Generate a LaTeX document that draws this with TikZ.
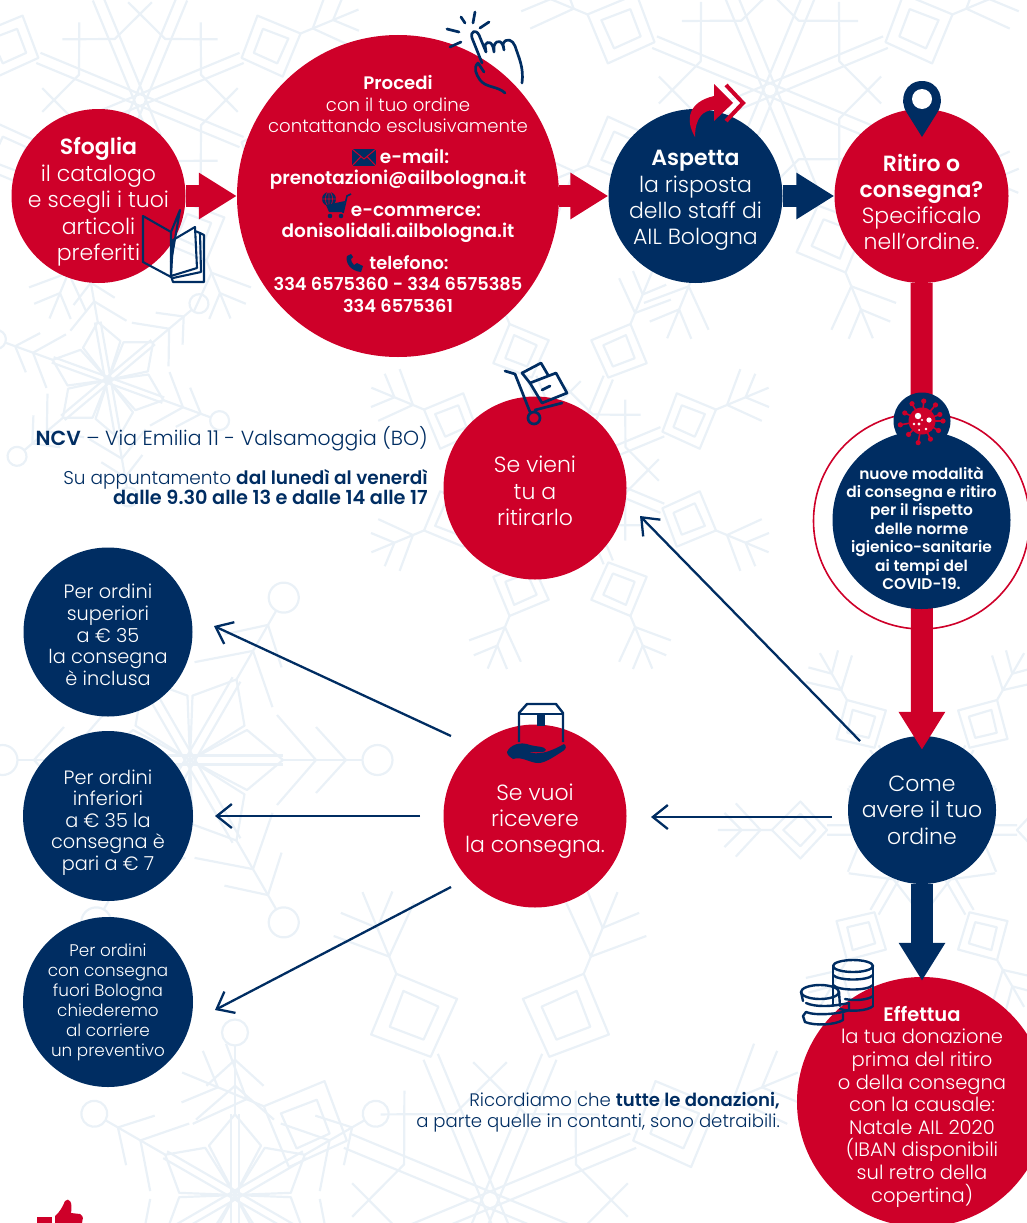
\documentclass[tikz,border=0pt]{standalone}
\usepackage{fontspec}
\setmainfont{Poppins Light}[BoldFont={Poppins SemiBold}]
\usetikzlibrary{arrows.meta}
\definecolor{navy}{HTML}{002D62}
\definecolor{ailred}{HTML}{CE0029}
\definecolor{flake}{HTML}{EAF1F7}
\newcommand{\fs}[2]{\fontsize{#1}{#2}\selectfont}
% petal flake with round tips
\newcommand{\flakeA}[4]{%
 \begin{scope}[shift={(#1,#2)},rotate=#4,scale=#3,line width=2.2pt,flake,line join=round]
 \foreach \a in {0,60,...,300}{
  \begin{scope}[rotate=\a]
   \draw (0,0) -- (-20,-38) -- (0,-62) -- (20,-38) -- cycle;
   \draw (-3,0) -- (-3,-62) (3,0) -- (3,-62);
   \draw (0,-62) -- (0,-115);
   \draw (-30,-58) -- (0,-84) -- (30,-58);
   \draw (-22,-84) -- (0,-104) -- (22,-84);
   \draw (0,-125) circle (10);
  \end{scope}}
 \end{scope}}
% diamond flake, #5 arms
\newcommand{\flakeB}[5]{%
 \pgfmathsetmacro{\stp}{360/#5}
 \begin{scope}[shift={(#1,#2)},rotate=#4,scale=#3,line width=2.2pt,flake,line join=round]
 \foreach \i in {1,...,#5}{
  \begin{scope}[rotate=\i*\stp]
   \draw (-5,0) -- (-5,-100) (5,0) -- (5,-100);
   \draw (0,-100) -- (-30,-128) -- (0,-158) -- (30,-128) -- cycle;
   \draw (0,-112) -- (-17,-128) -- (0,-146) -- (17,-128) -- cycle;
   \draw (-44,-78) -- (0,-60) -- (44,-78);
   \draw (0,-158) -- (0,-215);
   \draw (-28,-196) -- (0,-170) -- (28,-196);
   \draw (-18,-208) -- (0,-190) -- (18,-208);
  \end{scope}}
 \end{scope}}
\tikzset{
 disc/.style={circle,inner sep=0pt,minimum size=#1,text=white,align=center},
 redd/.style={disc=#1,fill=ailred},
 navd/.style={disc=#1,fill=navy},
 blockred/.style={draw=ailred,line width=22pt,-{Triangle[length=38pt,width=44pt,fill=ailred]}},
 blocknav/.style={draw=navy,line width=22pt,-{Triangle[length=38pt,width=44pt,fill=navy]}},
 thin/.style={draw=navy,line width=2.3pt,-{Straight Barb[length=15pt,width=24pt,line width=2.3pt]}},
 lab/.style={text=white,align=center,inner sep=0pt},
 outs/.style={text=navy,align=right,inner sep=0pt,anchor=east},
 ico/.style={draw=navy,line width=2.4pt,line cap=round,line join=round},
}
\begin{document}
\begin{tikzpicture}[x=1pt,y=-1pt]
\useasboundingbox (0,0) rectangle (1027,1223);
\begin{scope}
\clip (0,0) rectangle (1027,1223);
\flakeB{140}{100}{1.1}{22.5}{8}
\flakeB{770}{90}{1.25}{22.5}{8}
\flakeB{570}{470}{1.0}{22.5}{8}
\flakeB{922}{830}{0.95}{30}{6}
\flakeB{490}{1200}{1.55}{22.5}{8}
\flakeA{108}{380}{0.95}{10}
\flakeA{190}{760}{1.5}{30}
\flakeA{235}{1195}{1.3}{0}
\end{scope}

% discs
\node[redd=174pt] (sfoglia) at (98.5,196) {};
\node[redd=322pt] (procedi) at (398,196) {};
\node[navd=174pt] (aspetta) at (695.5,196) {};
\node[redd=174pt] (ritiro) at (921.5,196) {};
\node[navd=148pt] (come) at (922,810) {};
\node[redd=250pt] (effettua) at (922,1102) {};
\node[redd=183pt] (vieni) at (535,488) {};
\node[redd=183pt] (vuoi) at (535,816) {};
\node[navd=169pt] (sup) at (108,632) {};
\node[navd=170pt] (inf) at (108,816) {};
\node[navd=170pt] (fuori) at (108,1002) {};

% block arrows
\draw[blockred] (sfoglia) -- (procedi);
\draw[blockred] (procedi) -- (aspetta);
\draw[blocknav] (aspetta) -- (ritiro);
\draw[blockred,shorten >=-14pt] (ritiro) -- (come);
\draw[blocknav,shorten >=-4pt] (come) -- (effettua);

% covid group
\node[circle,draw=ailred,line width=1.6pt,minimum size=216pt,inner sep=0pt] (ring) at (921.5,521) {};
\node[navd=178pt] (covid) at (921.5,520) {};
\node[navd=57pt] (virus) at (922,421) {};
\begin{scope}[shift={(virus.center)}]
 \foreach \a/\r in {0/21,30/19,65/20,100/22,135/19,170/22,205/19,240/20,275/20,310/21,340/19}{
  \draw[ailred,line width=1.6pt] (0,0) -- (\a:\r);
  \fill[ailred] (\a:\r) circle (2.6);}
 \fill[ailred] (0,0) circle (13.5);
 \fill[white] (-4,-5) circle (3.2) (7,-1) circle (2.6) (-8,3) circle (1.3) (0,-1) circle (1.2) (-3,3) circle (1.6) (4,8) circle (1.3) (-3,9) circle (1);
\end{scope}

% thin arrows
\coordinate (a1s) at (860,741); \coordinate (a1e) at (640,516);
\coordinate (a2s) at (832,817); \coordinate (a2e) at (651,817);
\coordinate (a3s) at (451,736); \coordinate (a3e) at (214,626);
\coordinate (a4s) at (420,816); \coordinate (a4e) at (215,816);
\coordinate (a5s) at (451,887); \coordinate (a5e) at (215,1010);
\draw[thin] (a1s) -- (a1e);
\draw[thin] (a2s) -- (a2e);
\draw[thin] (a3s) -- (a3e);
\draw[thin] (a4s) -- (a4e);
\draw[thin] (a5s) -- (a5e);

% texts
\node[lab,font=\fs{22}{26.6}] (tsf) at (98.5,202) {\textbf{Sfoglia}\\il catalogo\\e scegli i tuoi\\articoli\\preferiti};
\node[lab,font=\fs{18.1}{21.5}] (tp1) at (398,104) {\textbf{Procedi}\\con il tuo ordine\\contattando esclusivamente};
\node[lab,font=\fs{18.5}{21.5}] (tp2) at (398,169.5) {\textbf{\hspace*{33pt}e-mail:}\\\textbf{prenotazioni@ailbologna.it}};
\node[lab,font=\fs{18.5}{21.5}] (tp3) at (398,224) {\textbf{\hspace*{36pt}e-commerce:}\\\textbf{donisolidali.ailbologna.it}};
\node[lab,font=\fs{17.8}{21.5}] (tp4) at (398,284) {\textbf{\hspace*{22pt}telefono:}\\\textbf{334 6575360 - 334 6575385}\\\textbf{334 6575361}};
\node[lab,font=\fs{22}{26.4}] (tas) at (695.5,200.5) {\textbf{Aspetta}\\la risposta\\dello staff di\\AIL Bologna};
\node[lab,font=\fs{22}{26.2}] (tri) at (921.5,202) {\textbf{Ritiro o}\\\textbf{consegna?}\\Specificalo\\nell’ordine.};
\node[lab,font=\fs{15.4}{18.4}] (tco) at (921.5,528) {\textbf{nuove modalità}\\\textbf{di consegna e ritiro}\\\textbf{per il rispetto}\\\textbf{delle norme}\\\textbf{igienico-sanitarie}\\\textbf{ai tempi del}\\\textbf{COVID-19.}};
\node[lab,font=\fs{22}{26.4}] (tcm) at (922,810) {Come\\avere il tuo\\ordine};
\node[lab,font=\fs{19.5}{22.6}] (tef) at (922,1106.5) {\textbf{Effettua}\\la tua donazione\\prima del ritiro\\o della consegna\\con la causale:\\Natale AIL 2020\\(IBAN disponibili\\sul retro della\\copertina)};
\node[lab,font=\fs{22}{26.2}] (tvi) at (535,491) {Se vieni\\tu a\\ritirarlo};
\node[lab,font=\fs{22}{26.2}] (tvu) at (535,821) {Se vuoi\\ricevere\\la consegna.};
\node[lab,font=\fs{19.3}{21.6}] (tsu) at (108,635) {Per ordini\\superiori\\a € 35\\la consegna\\è inclusa};
\node[lab,font=\fs{19.3}{21.6}] (tin) at (108,822.5) {Per ordini\\inferiori\\a € 35 la\\consegna è\\pari a € 7};
\node[lab,font=\fs{16.8}{20}] (tfu) at (108,1002) {Per ordini\\con consegna\\fuori Bologna\\chiederemo\\al corriere\\un preventivo};
\node[outs,font=\fs{20.4}{23}] (ncv) at (428,439) {\textbf{NCV} – Via Emilia 11 - Valsamoggia (BO)};
\node[outs,font=\fs{18.5}{19.5}] (app) at (428,487) {Su appuntamento \textbf{dal lunedì al venerdì}\\{\fs{19.3}{19.5}\textbf{dalle 9.30 alle 13 e dalle 14 alle 17}}};
\node[outs,font=\fs{18.1}{21}] (ric) at (780,1112) {Ricordiamo che \textbf{tutte le donazioni,}\\a parte quelle in contanti, sono detraibili.};

% envelope
\fill[navy] (352,149) rectangle (376,166);
\draw[ailred,line width=1pt] (352,149) -- (364,159) -- (376,149) (352,166) -- (361,156.5) (376,166) -- (367,156.5);
% cart
\begin{scope}[navy]
 \fill (329,199) circle (7);
 \draw[ailred,line width=.7pt] (322,199) -- (336,199) (329,192) -- (329,206) (329,199) ellipse (3.5 and 7);
 \fill (326,205) -- (345,201) -- (343,212) -- (329,212) -- cycle;
 \draw[line width=1.6pt] (351,194) -- (347,196) -- (343,213);
 \fill (330,216) circle (2.3) (341,216) circle (2.3);
\end{scope}
% phone
\fill[navy] (347,256) .. controls (345,262) and (350,271) .. (361,272) -- (363,266) -- (357,263) -- (354,265) .. controls (352,263) and (351,261) .. (351,259) -- (353,257) -- (351,254) -- cycle;
% hand
\draw[ico,line width=2.7pt] (482,63) -- (472,38) .. controls (470,31) and (476,29) .. (479,35) -- (486,52) -- (485,45) .. controls (488,40) and (493,42) .. (494,52) -- (494,46) .. controls (497,38) and (503,41) .. (504,50) -- (503,44) .. controls (506,37) and (513,40) .. (515,46) .. controls (519,58) and (524,68) .. (522,83);
\draw[ico,line width=2.7pt] (484,72) -- (478,63) .. controls (473,68) and (476,74) .. (480,80) .. controls (486,88) and (498,86) .. (505,93);
\draw[ico,line width=2.7pt] (461,17) -- (465,23) (475,12) -- (473,23) (489,22) -- (480,28) (447,29) -- (459,32) (450,47) -- (461,42);
% book
\draw[ico,line width=2.1pt] (143,216) -- (171,232) -- (171,277) -- (143,262) -- cycle;
\draw[ico,line width=2.1pt] (171,232) -- (180,210) -- (171,262);
\draw[ico,line width=2.1pt] (171,276) -- (173,240) -- (195,227) -- (197,268) -- (171,276);
\draw[ico,line width=2.1pt] (195,231) -- (200,233) -- (201,272) -- (173,278);
\draw[ico,line width=2.1pt] (200,233) -- (204,235) -- (204,282) -- (173,282) -- (171,276);
% curved arrow + chevron
\fill[ailred] (695,137) .. controls (685,120) and (688,102) .. (714,96) -- (714,84) -- (733,103) -- (714,121) -- (714,110) .. controls (703,110) and (695,118) .. (695,137) -- cycle;
\draw[ailred,line width=4pt,miter limit=10] (726,85) -- (743,103) -- (726,121);
% pin
\fill[navy] (922,137) -- (907,113) .. controls (898,100) and (905,81) .. (922,81) .. controls (939,81) and (946,100) .. (937,113) -- cycle;
\fill[white] (922,99) circle (10);
% trolley
\draw[ico,line width=2.7pt] (505,371) -- (515,374) -- (530,412);
\draw[ico,line width=2.7pt] (535,410) -- (562,403);
\draw[ico,line width=2.7pt] (534,418) circle (6);
\draw[ico,line width=2.7pt] (530,383) -- (522,373) -- (541,363) -- (548,375);
\draw[ico,line width=2.7pt] (530,383) -- (556,373) -- (567,393) -- (542,403) -- cycle;
\draw[ico,line width=2.7pt] (542,390) -- (550,386);
% box & hand
\draw[ico,line cap=butt] (519,742) -- (519,713) -- (527,704) -- (556,704) -- (563,713) -- (563,742);
\draw[ico,line cap=butt] (519,714) -- (563,714);
\fill[navy] (537,714) rectangle (545,726);
\fill[navy] (507,752) .. controls (510,745) and (520,741) .. (530,745) .. controls (537,747) and (545,746) .. (546,750) .. controls (546,753) and (535,752) .. (528,752) .. controls (538,755) and (548,753) .. (564,744) .. controls (567,746) and (566,749) .. (563,751) .. controls (552,758) and (545,763) .. (538,763) .. controls (530,763) and (522,756) .. (513,759) .. controls (510,757) and (507,755) .. (507,752) -- cycle;
% coins
\begin{scope}[ico,line width=2.4pt]
 \draw (853,966) ellipse (20 and 6);
 \draw (833,966) -- (833,1006) (873,966) -- (873,1006);
 \draw (833,975) .. controls (838,981) and (868,981) .. (873,975);
 \draw (833,985) .. controls (838,991) and (868,991) .. (873,985);
 \draw (840,1009) .. controls (850,1012) and (868,1011) .. (873,1006);
 \draw (845,999) .. controls (855,1001) and (868,1000) .. (873,996);
 \draw (820,992) ellipse (19 and 7);
 \draw (801,992) -- (803,1001) (839,992) -- (840,1006);
 \draw (806,1003) .. controls (815,1007) and (830,1007) .. (849,1003);
 \draw (849,1003) -- (849,1010) .. controls (840,1014) and (815,1016) .. (806,1012);
 \draw (806,1012) -- (803,1016) -- (805,1022) .. controls (815,1026) and (835,1025) .. (843,1020) -- (843,1014);
\end{scope}
% thumb
\fill[ailred] (37,1217) rectangle (52,1223);
\fill[ailred] (55,1223) -- (55,1216) .. controls (60,1212) and (63,1206) .. (65,1201) .. controls (69,1197) and (73,1202) .. (71,1213) -- (80,1214) .. controls (84,1216) and (83,1220) .. (82,1223) -- cycle;
\end{tikzpicture}
\end{document}
